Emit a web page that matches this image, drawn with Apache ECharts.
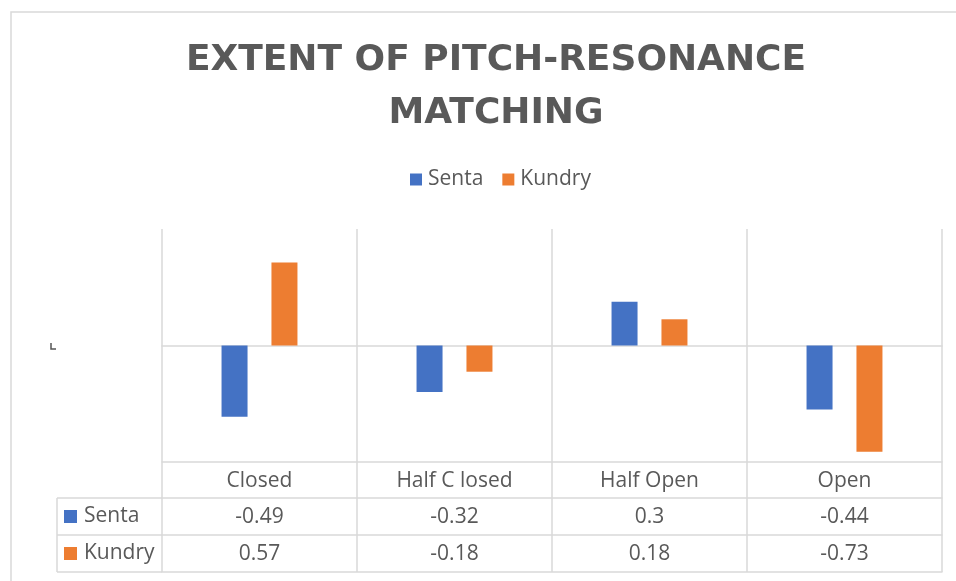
<!DOCTYPE html>
<html>
<head>
<meta charset="utf-8">
<script src="https://cdn.jsdelivr.net/npm/echarts@6/dist/echarts.min.js"></script>
<style>html,body{margin:0;padding:0;background:#fff}#c{width:956px;height:581px}</style>
</head>
<body>
<div id="c"></div>
<script>
const titleText = 'EXTENT OF PITCH-RESONANCE\nMATCHING';
const categories = ['Closed', 'Half C losed', 'Half Open', 'Open'];
const seriesNames = ['Senta', 'Kundry'];
const senta = [-0.49, -0.32, 0.3, -0.44];
const kundry = [0.57, -0.18, 0.18, -0.73];
const colors = ['#4472C4', '#ED7D31'];

const gridLine = '#d9d9d9';
const txt = '#595959';
const font = 'Open Sans';
const tableFont = 21;

const chart = echarts.init(document.getElementById('c'), null, {renderer: 'canvas'});

function tableAxis(offset, values, showLabel) {
  return {
    type: 'category', data: categories, position: 'bottom', gridIndex: 0,
    offset: offset,
    axisLine: {show: true, onZero: false, lineStyle: {color: gridLine, width: 1.5}},
    axisTick: {show: false},
    splitLine: {show: false},
    axisLabel: {
      show: showLabel, margin: 9, color: txt, fontFamily: font, fontSize: tableFont,
      formatter: (v, i) => values ? String(values[i]) : v
    }
  };
}

const option = {
  backgroundColor: '#fff',
  color: colors,
  animation: false,
  title: {
    text: titleText, left: 491, top: 29, textAlign: 'center',
    textStyle: {color: txt, fontFamily: 'DejaVu Sans', fontWeight: 'bold', fontSize: 36, lineHeight: 53}
  },
  legend: {
    data: seriesNames, left: 405, top: 164, itemWidth: 12, itemHeight: 12, itemGap: 19,
    icon: 'rect',
    textStyle: {color: txt, fontFamily: font, fontSize: 21, padding: [0, 0, 0, 1]}
  },
  grid: {left: 162, right: 14, top: 229, bottom: 119, containLabel: false},
  xAxis: [
    {
      type: 'category', data: categories, gridIndex: 0,
      axisLine: {show: true, onZero: true, lineStyle: {color: gridLine, width: 1.5}},
      axisTick: {show: false}, axisLabel: {show: false},
      splitLine: {show: true, lineStyle: {color: gridLine, width: 1.5}}
    },
    Object.assign(tableAxis(0, null, true), {
      axisTick: {show: true, length: 110, lineStyle: {color: gridLine, width: 1.5}},
      axisLabel: {show: true, margin: 9, color: txt, fontFamily: font, fontSize: tableFont}
    }),
    tableAxis(36, senta, true),
    tableAxis(73, kundry, true),
    tableAxis(110, null, false)
  ],
  yAxis: {
    type: 'value', min: -0.8, max: 0.8, interval: 0.8,
    axisLine: {show: false}, axisTick: {show: false}, axisLabel: {show: false},
    splitLine: {show: false}
  },
  series: [
    {name: seriesNames[0], type: 'bar', data: senta, barWidth: 26, barGap: '92%', xAxisIndex: 0},
    {name: seriesNames[1], type: 'bar', data: kundry, barWidth: 26, barGap: '92%', xAxisIndex: 0}
  ],
  graphic: [
    {type: 'rect', shape: {x: 11, y: 12, width: 960, height: 600}, style: {fill: 'none', stroke: gridLine, lineWidth: 1.5}, silent: true},
    {type: 'polyline', shape: {points: [[51, 343], [51, 349], [56, 349]]}, style: {stroke: '#555', fill: 'none', lineWidth: 1.5}},
    {type: 'line', shape: {x1: 57, y1: 498, x2: 162, y2: 498}, style: {stroke: gridLine, lineWidth: 1.5}},
    {type: 'line', shape: {x1: 57, y1: 535, x2: 162, y2: 535}, style: {stroke: gridLine, lineWidth: 1.5}},
    {type: 'line', shape: {x1: 57, y1: 572, x2: 162, y2: 572}, style: {stroke: gridLine, lineWidth: 1.5}},
    {type: 'line', shape: {x1: 57, y1: 498, x2: 57, y2: 572}, style: {stroke: gridLine, lineWidth: 1.5}},
    {type: 'rect', shape: {x: 64, y: 510, width: 13, height: 13}, style: {fill: colors[0]}},
    {type: 'text', x: 84, y: 516, style: {text: seriesNames[0], fill: txt, font: tableFont + 'px "Open Sans"', verticalAlign: 'middle'}},
    {type: 'rect', shape: {x: 64, y: 547, width: 13, height: 13}, style: {fill: colors[1]}},
    {type: 'text', x: 84, y: 553, style: {text: seriesNames[1], fill: txt, font: tableFont + 'px "Open Sans"', verticalAlign: 'middle'}}
  ]
};
chart.setOption(option);
</script>
</body>
</html>
